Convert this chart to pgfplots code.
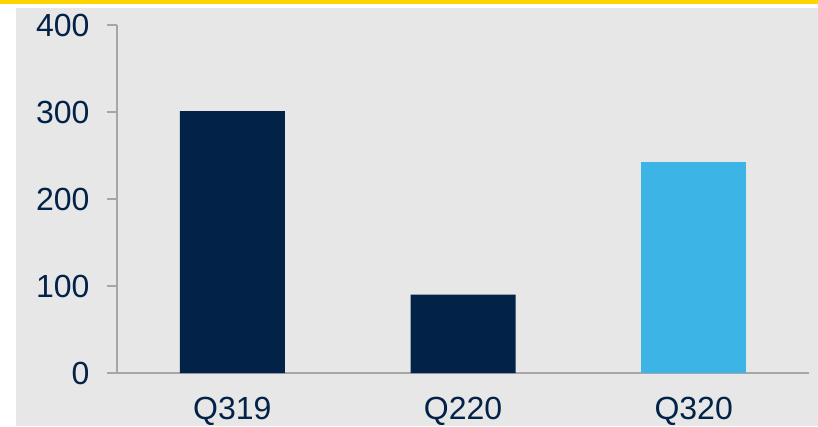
\documentclass[border=0pt]{standalone}
\usepackage{pgfplots}
\pgfplotsset{compat=1.18}
\usepackage{fontspec}
\setmainfont{Liberation Sans}
\definecolor{navy}{RGB}{2,34,72}
\definecolor{sky}{RGB}{60,180,229}
\definecolor{bggray}{RGB}{231,231,231}
\definecolor{band}{RGB}{255,213,0}
\definecolor{axgray}{RGB}{166,166,166}
\begin{document}
\begin{tikzpicture}[x=1pt,y=1pt]
% page frame: white, gray panel, yellow band on top
\path[fill=white,use as bounding box] (-117,-53) rectangle (701,373);
\fill[bggray] (-101,-53) rectangle (701,365);
\fill[band] (-117,369) rectangle (701,373);
\begin{axis}[
  at={(0,0)}, anchor=south west,
  scale only axis, width=692pt, height=348pt,
  xmin=-0.5, xmax=2.5, ymin=0, ymax=400,
  axis x line*=bottom, axis y line*=left,
  axis line style={draw=axgray,line width=1.3pt,-},
  xtick={0,1,2}, xticklabels={Q319,Q220,Q320},
  ytick={0,100,200,300,400},
  major x tick style={draw=none},
  major y tick style={draw=axgray,line width=1.3pt},
  tick align=outside, major tick length=10pt,
  tick label style={font=\fontsize{32}{34}\selectfont,text=navy},
  yticklabel style={xshift=-14pt},
  xticklabel style={yshift=-11pt},
  /pgf/number format/assume math mode=true,
  ybar, bar width=105pt,
]
\addplot[fill=navy,draw=none,bar shift=0pt] coordinates {(0,301) (1,90)};
\addplot[fill=sky,draw=none,bar shift=0pt] coordinates {(2,243)};
\end{axis}
\end{tikzpicture}
\end{document}
